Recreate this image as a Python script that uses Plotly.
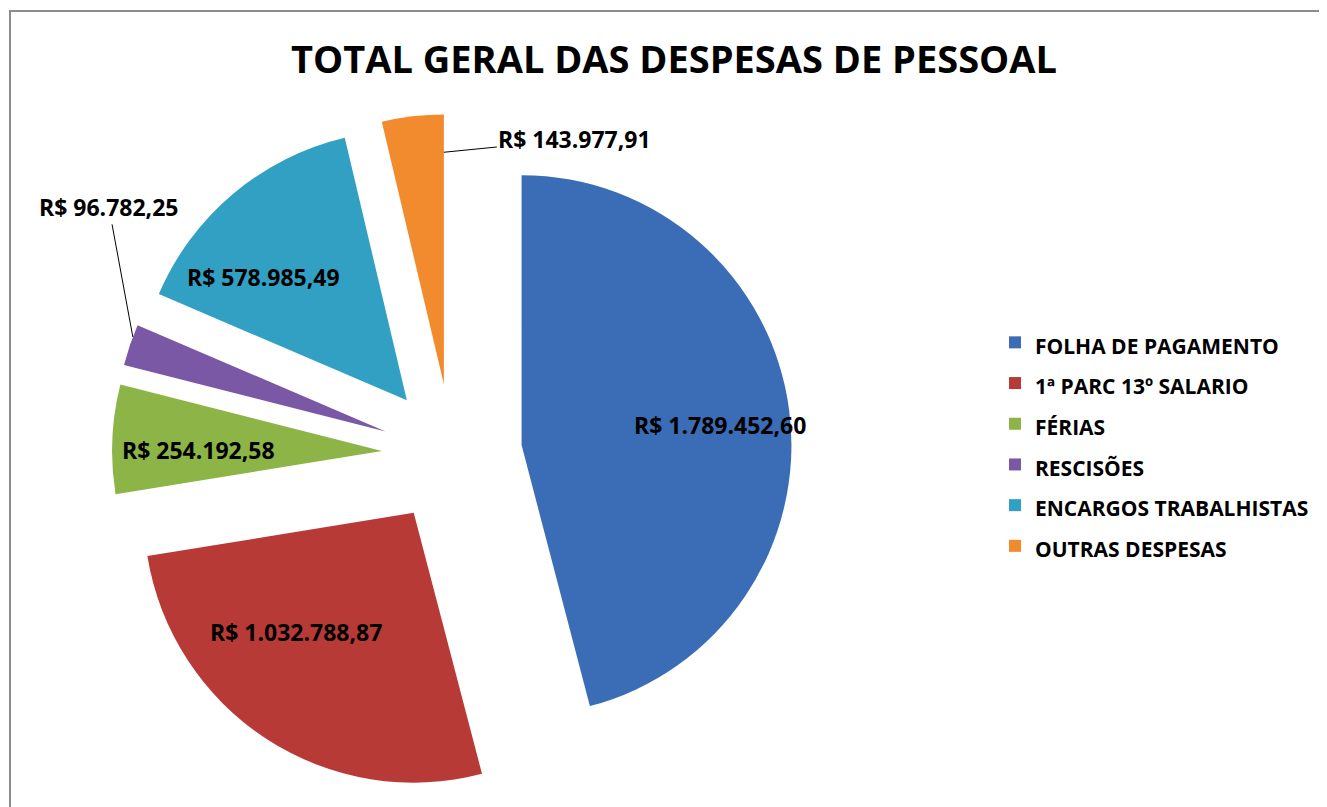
import math
import plotly.graph_objects as go

categories = ["FOLHA DE PAGAMENTO", "1ª PARC 13º SALARIO", "FÉRIAS",
              "RESCISÕES", "ENCARGOS TRABALHISTAS", "OUTRAS DESPESAS"]
values = [1789452.60, 1032788.87, 254192.58, 96782.25, 578985.49, 143977.91]
colors = ["#3A6DB5", "#B83A37", "#8DB446", "#7A58A6", "#31A0C3", "#F28B2D"]


def brl(v):
    s = f"{v:,.2f}".replace(",", "X").replace(".", ",").replace("X", ".")
    return "R$ " + s


labels_txt = [brl(v) for v in values]

# page geometry: the browser body has an 8px margin
OFF = 8
W, H = 1327 - OFF, 807 - OFF


def fx(X):
    return (X - OFF) / W


def fy(Y):
    return 1 - (Y - OFF) / H


PULL = 0.26
BOX = (112, 792, 114, 794)  # left, right, top, bottom of pie box (page px)
dom_x = [fx(BOX[0]), fx(BOX[1])]
dom_y = [fy(BOX[3]), fy(BOX[2])]

fig = go.Figure(go.Pie(
    labels=[f"<span style='font-size:21px'>{c}</span>" for c in categories],
    values=values,
    textinfo="none",
    sort=False,
    direction="clockwise",
    rotation=0,
    pull=[PULL] * len(values),
    marker=dict(colors=colors, line=dict(width=0)),
    domain=dict(x=dom_x, y=dom_y),
    hoverinfo="label+value",
))

# same geometry rule plotly uses, to place the value labels on the slices
cx = (BOX[0] + BOX[1]) / 2
cy = (BOX[2] + BOX[3]) / 2
r = min(BOX[1] - BOX[0], BOX[3] - BOX[2]) / (2 + 2 * PULL)
total = sum(values)


def slice_point(i, frac_angle, frac_r):
    start = sum(values[:i]) / total * 360
    span = values[i] / total * 360
    mid = math.radians(start + span / 2)
    vx = cx + PULL * r * math.sin(mid)
    vy = cy - PULL * r * math.cos(mid)
    a = math.radians(start + span * frac_angle)
    return vx + frac_r * r * math.sin(a), vy - frac_r * r * math.cos(a)


lab_font = dict(family="Open Sans", size=23, color="black", weight="bold")
# (slice index, fraction of slice angle, fraction of radius)
inside_spots = [(0, 0.51, 0.74), (1, 0.62, 0.62), (2, 0.40, 0.68), (4, 0.33, 0.70)]

annotations = []
for i, fa, fr in inside_spots:
    X, Y = slice_point(i, fa, fr)
    annotations.append(dict(x=fx(X), y=fy(Y), xref="paper", yref="paper",
                            text=labels_txt[i], showarrow=False,
                            xanchor="center", yanchor="middle", font=lab_font))

# RESCISÕES: leader line up to a label above
X, Y = slice_point(3, 0.7, 1.0)
annotations.append(dict(x=fx(X), y=fy(Y), xref="paper", yref="paper",
                        text=labels_txt[3], showarrow=True, arrowhead=0,
                        arrowwidth=1, arrowcolor="black", ax=-24, ay=-130,
                        font=lab_font))
# OUTRAS DESPESAS: leader line to a label at the right
X, Y = slice_point(5, 1.0, 0.86)
annotations.append(dict(x=fx(X), y=fy(Y), xref="paper", yref="paper",
                        text=labels_txt[5], showarrow=True, arrowhead=0,
                        arrowwidth=1, arrowcolor="black", ax=131, ay=-13,
                        font=lab_font))

fig.update_layout(
    width=W, height=H,
    margin=dict(l=0, r=0, t=0, b=0, autoexpand=False),
    paper_bgcolor="white",
    title=dict(text="TOTAL GERAL DAS DESPESAS DE PESSOAL",
               font=dict(family="Open Sans", size=38, color="black", weight="bold"),
               x=fx(674), xanchor="center", y=fy(60), yanchor="middle",
               yref="container", xref="container"),
    legend=dict(x=fx(995), xanchor="left", y=fy(317), yanchor="top",
                font=dict(family="Open Sans", size=29, color="black", weight="bold"),
                bgcolor="rgba(0,0,0,0)"),
    annotations=annotations,
    shapes=[dict(type="rect", xref="paper", yref="paper",
                 x0=fx(10), x1=1.05, y0=-0.05, y1=fy(11),
                 line=dict(color="#8C8C8C", width=2), layer="below")],
)

fig.write_html("out.html")
